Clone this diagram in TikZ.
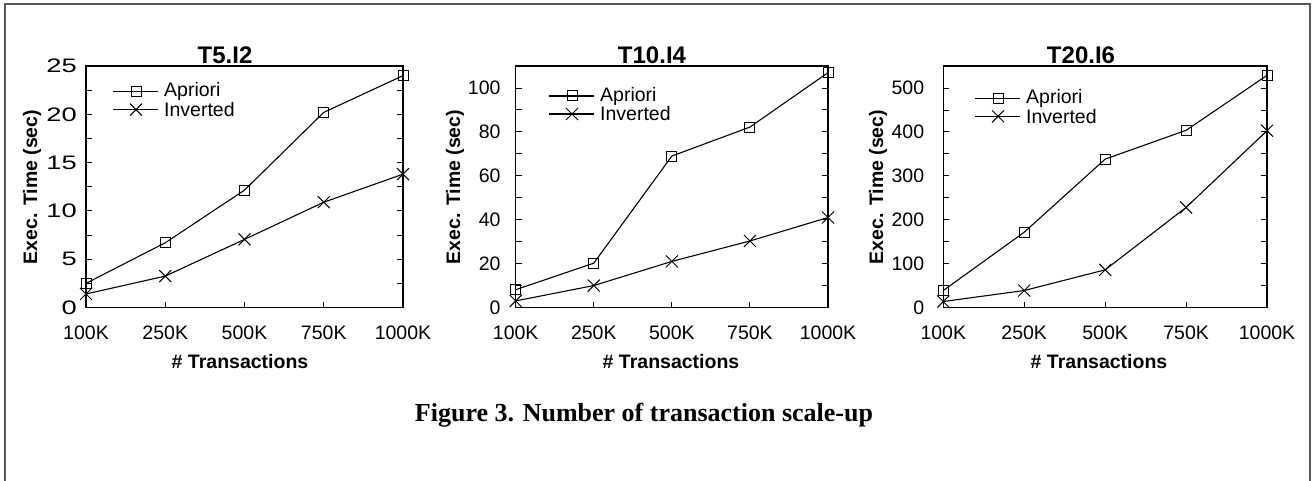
\documentclass[tikz,border=0pt]{standalone}
\usepackage{fontspec}
\setmainfont{Liberation Serif}
\setsansfont{Liberation Sans}
\usetikzlibrary{shapes.misc}

\tikzset{
  sqmark/.style={draw, rectangle, minimum size=10pt, inner sep=0pt, line width=1pt},
  xmark/.style={draw, cross out, minimum size=11pt, inner sep=0pt, line width=1pt},
  series/.style={line width=1.1pt},
  plotbox/.style={line width=1.2pt},
  tickmark/.style={line width=0.9pt},
  ticklab/.style={font=\sffamily\fontsize{19.5}{19.5}\selectfont, inner sep=0pt},
  axislab/.style={font=\sffamily\bfseries\fontsize{19.5}{19.5}\selectfont, inner sep=0pt},
  titlelab/.style={font=\sffamily\bfseries\fontsize{24}{24}\selectfont, inner sep=0pt},
  leglab/.style={font=\sffamily\fontsize{19.5}{19.5}\selectfont, inner sep=0pt, anchor=west},
}

\begin{document}
\begin{tikzpicture}[x=1pt, y=-1pt]
\useasboundingbox (0,0) rectangle (1312,481);
% outer frame, open at the bottom
\draw[line width=2pt, black!65] (4.5,481) -- (4.5,4.5) -- (1309.5,4.5) -- (1309.5,481);

% T5.I2
\begin{scope}[shift={(86pt,-307.5pt)}, x=79.25pt, y=9.66pt]
  \draw[plotbox] (0,0) rectangle (4,25);
  \foreach \i in {1,2,3} \draw[tickmark] (\i,0) -- ++(0,6pt);
  \foreach \v in {2.5,5,...,22.5} {
    \draw[tickmark] (0,\v) -- ++(6pt,0);
    \draw[tickmark] (4,\v) -- ++(-6pt,0);
  }
  \foreach \v in {0,5,...,25}
    \node[ticklab, anchor=east, xshift=-9pt] (ya\v) at (0,\v) {\scalebox{1.4}[1]{\v}};
  \foreach \lab [count=\i from 0] in {100K,250K,500K,750K,1000K}
    \node[ticklab, yshift=-25.5pt] (xa\i) at (\i,0) {\lab};
  \foreach \v [count=\i from 0] in {2.5,6.7,12.15,20.2,24}
    \node[sqmark] (apa\i) at (\i,\v) {};
  \foreach \v [count=\i from 0] in {1.4,3.25,7.05,10.9,13.8}
    \node[xmark] (inva\i) at (\i,\v) {};
  \draw[series] (apa0.center) -- (apa1.center) -- (apa2.center) -- (apa3.center) -- (apa4.center);
  \draw[series] (inva0.center) -- (inva1.center) -- (inva2.center) -- (inva3.center) -- (inva4.center);
\end{scope}

% T10.I4
\begin{scope}[shift={(515.7pt,-307.5pt)}, x=78.08pt, y=2.195pt]
  \draw[plotbox] (0,0) rectangle (4,110);
  \foreach \i in {1,2,3} \draw[tickmark] (\i,0) -- ++(0,6pt);
  \foreach \v in {10,20,...,100} {
    \draw[tickmark] (0,\v) -- ++(6pt,0);
    \draw[tickmark] (4,\v) -- ++(-6pt,0);
  }
  \foreach \v in {0,20,...,100}
    \node[ticklab, anchor=east, xshift=-15pt] (yb\v) at (0,\v) {\v};
  \foreach \lab [count=\i from 0] in {100K,250K,500K,750K,1000K}
    \node[ticklab, yshift=-25.5pt] (xb\i) at (\i,0) {\lab};
  \foreach \v [count=\i from 0] in {8.1,20.2,69,82.2,107}
    \node[sqmark] (apb\i) at (\i,\v) {};
  \foreach \v [count=\i from 0] in {3,10,21,30.3,41}
    \node[xmark] (invb\i) at (\i,\v) {};
  \draw[series] (apb0.center) -- (apb1.center) -- (apb2.center) -- (apb3.center) -- (apb4.center);
  \draw[series] (invb0.center) -- (invb1.center) -- (invb2.center) -- (invb3.center) -- (invb4.center);
\end{scope}

% T20.I6
\begin{scope}[shift={(943.3pt,-307.5pt)}, x=80.93pt, y=0.439pt]
  \draw[plotbox] (0,0) rectangle (4,550);
  \foreach \i in {1,2,3} \draw[tickmark] (\i,0) -- ++(0,6pt);
  \foreach \v in {50,100,...,500} {
    \draw[tickmark] (0,\v) -- ++(6pt,0);
    \draw[tickmark] (4,\v) -- ++(-6pt,0);
  }
  \foreach \v in {0,100,...,500}
    \node[ticklab, anchor=east, xshift=-19pt] (yc\v) at (0,\v) {\v};
  \foreach \lab [count=\i from 0] in {100K,250K,500K,750K,1000K}
    \node[ticklab, yshift=-25.5pt] (xc\i) at (\i,0) {\lab};
  \foreach \v [count=\i from 0] in {38.7,171.5,338,403.6,528.8}
    \node[sqmark] (apc\i) at (\i,\v) {};
  \foreach \v [count=\i from 0] in {13.6,38.7,85.8,228,402.7}
    \node[xmark] (invc\i) at (\i,\v) {};
  \draw[series] (apc0.center) -- (apc1.center) -- (apc2.center) -- (apc3.center) -- (apc4.center);
  \draw[series] (invc0.center) -- (invc1.center) -- (invc2.center) -- (invc3.center) -- (invc4.center);
\end{scope}

% titles and axis labels
\node[titlelab] (ttla) at (225,55.5) {T5.I2};
\node[titlelab] (ttlb) at (652,55.5) {T10.I4};
\node[titlelab] (ttlc) at (1081,55.5) {T20.I6};
\foreach \p/\yx/\xx in {a/32/240, b/455/671, c/878/1099} {
  \node[axislab, rotate=90] (ylab\p) at (\yx,187) {Exec. Time (sec)};
  \node[axislab] (xlab\p) at (\xx,361.5) {\# Transactions};
}

% legends
\foreach \p/\lx/\ly in {a/113/91.7, b/549/96, c/975/98.3} {
  \coordinate (leg\p-aw) at (\lx,\ly);
  \coordinate (leg\p-ae) at (\lx+45,\ly);
  \node[sqmark] (leg\p-am) at (\lx+23,\ly) {};
  \draw[series] (leg\p-aw) -- (leg\p-ae);
  \node[leglab] (leg\p-at) at (\lx+51,\ly) {Apriori};
  \coordinate (leg\p-iw) at (\lx,\ly+18);
  \coordinate (leg\p-ie) at (\lx+45,\ly+18);
  \node[xmark] (leg\p-im) at (\lx+23,\ly+18) {};
  \draw[series] (leg\p-iw) -- (leg\p-ie);
  \node[leglab] (leg\p-it) at (\lx+51,\ly+18) {Inverted};
}

% caption
\node[font=\bfseries\fontsize{26}{26}\selectfont, inner sep=0pt] (caption) at (644,415) {Figure 3. Number of transaction scale-up};
\end{tikzpicture}
\end{document}
